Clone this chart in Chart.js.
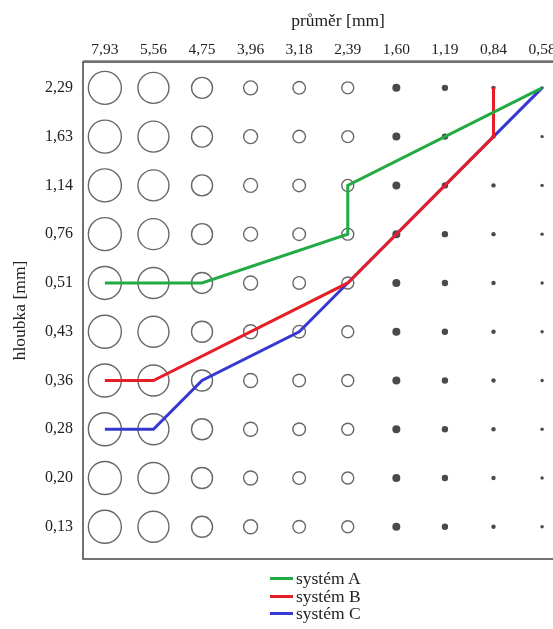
<!DOCTYPE html>
<html>
<head>
<meta charset="utf-8">
<script src="https://cdn.jsdelivr.net/npm/chart.js@4"></script>
<style>
html, body { margin: 0; padding: 0; background: #fff; overflow: hidden; width: 553px; height: 629px; }
#wrap { position: relative; width: 611px; height: 629px; }
#legend { position: absolute; left: 270px; top: 570px; font-family: "Liberation Serif", serif; font-size: 17.5px; color: #222; line-height: 17.5px; }
.item { display: flex; align-items: center; white-space: nowrap; }
.swatch { width: 23px; height: 3px; margin-right: 3px; }
</style>
</head>
<body>
<div id="wrap">
  <canvas id="chart" width="611" height="629"></canvas>
  <div id="legend"></div>
</div>
<script>
const xLabels = ['7,93', '5,56', '4,75', '3,96', '3,18', '2,39', '1,60', '1,19', '0,84', '0,58'];
const yLabels = ['2,29', '1,63', '1,14', '0,76', '0,51', '0,43', '0,36', '0,28', '0,20', '0,13'];

// [průměr, hloubka] per vertex
const systemA = [['7,93', '0,51'], ['4,75', '0,51'], ['2,39', '0,76'], ['2,39', '1,14'], ['0,58', '2,29']];
const systemB = [['7,93', '0,36'], ['5,56', '0,36'], ['2,39', '0,51'], ['0,84', '1,63'], ['0,84', '2,29']];
const systemC = [['7,93', '0,28'], ['5,56', '0,28'], ['4,75', '0,36'], ['3,18', '0,43'], ['2,39', '0,51'], ['0,58', '2,29']];

const seriesNames = ['systém A', 'systém B', 'systém C'];
const seriesColors = ['rgb(34, 170, 68)', 'rgb(230, 30, 40)', 'rgb(55, 55, 210)'];

// marker size per column, the small ones are drawn filled
const ringRadius = [16.5, 15.5, 10.5, 7, 6.3, 6, 4, 3.2, 2.2, 1.7];
const filledFrom = 6;

var font = { family: '"Liberation Serif", serif', size: 15.5 };
var yFont = { family: '"Liberation Serif", serif', size: 16 };
var titleFont = { family: '"Liberation Serif", serif', size: 17.5 };
var textColor = '#222';

function toPoints(list) {
    return list.map(p => ({ x: xLabels.indexOf(p[0]), y: yLabels.indexOf(p[1]) }));
}

const gridPoints = [];
yLabels.forEach((yl, j) => {
    xLabels.forEach((xl, i) => {
        gridPoints.push({ x: i, y: j });
    });
});

const lineSets = [systemA, systemB, systemC].map((s, i) => ({
    label: seriesNames[i],
    data: toPoints(s),
    showLine: true,
    borderColor: seriesColors[i],
    backgroundColor: seriesColors[i],
    borderWidth: 3,
    pointRadius: 0,
}));

const framePlugin = {
    id: 'frame',
    beforeDatasetsDraw(chart) {
        const a = chart.chartArea;
        const ctx = chart.ctx;
        ctx.save();
        ctx.strokeStyle = '#444';
        ctx.lineWidth = 1.5;
        ctx.strokeRect(a.left, a.top, a.right - a.left, a.bottom - a.top);
        ctx.strokeStyle = '#999';
        ctx.lineWidth = 1;
        ctx.beginPath();
        ctx.moveTo(a.left, a.top - 1.5);
        ctx.lineTo(a.right, a.top - 1.5);
        ctx.stroke();
        ctx.restore();
    }
};

new Chart(document.getElementById('chart'), {
    type: 'scatter',
    data: {
        datasets: lineSets.concat([{
            label: 'grid',
            data: gridPoints,
            pointRadius: ctx => ringRadius[ctx.raw.x],
            pointBackgroundColor: ctx => ctx.raw.x >= filledFrom ? '#4a4a4a' : 'rgba(0,0,0,0)',
            pointBorderColor: ctx => ctx.raw.x >= filledFrom ? '#4a4a4a' : '#686868',
            pointBorderWidth: ctx => ctx.raw.x >= filledFrom ? 0 : 1.4,
        }])
    },
    options: {
        responsive: false,
        animation: false,
        events: [],
        layout: { padding: { left: 0, top: 0, right: 0, bottom: 70 } },
        plugins: {
            legend: { display: false },
            tooltip: { enabled: false },
        },
        scales: {
            x: {
                type: 'linear',
                position: 'top',
                min: -0.45,
                max: 10.05,
                afterBuildTicks: s => { s.ticks = xLabels.map((l, i) => ({ value: i })); },
                afterFit: s => { s.height = 62; },
                grid: { display: false, drawTicks: false },
                border: { display: false },
                ticks: {
                    callback: v => xLabels[Math.round(v)],
                    font: font,
                    color: textColor,
                    padding: 3,
                    maxRotation: 0,
                    autoSkip: false,
                },
                title: { display: true, text: 'průměr [mm]', font: titleFont, color: textColor, padding: { top: 11, bottom: 0 } },
            },
            y: {
                type: 'linear',
                reverse: true,
                min: -0.53,
                max: 9.66,
                afterBuildTicks: s => { s.ticks = yLabels.map((l, i) => ({ value: i })); },
                afterFit: s => { s.width = 83; },
                grid: { display: false, drawTicks: false },
                border: { display: false },
                ticks: {
                    callback: v => yLabels[Math.round(v)],
                    font: yFont,
                    color: textColor,
                    padding: 10,
                    autoSkip: false,
                },
                title: { display: true, text: 'hloubka [mm]', font: titleFont, color: textColor, padding: { top: 10, bottom: 0 } },
            },
        },
    },
    plugins: [framePlugin]
});

// legend stacked under the plot
var legendHtml = '';
seriesNames.forEach((name, i) => {
    legendHtml += '<div class="item"><span class="swatch" style="background:' + seriesColors[i] + '"></span>' + name + '</div>';
});
document.getElementById('legend').innerHTML = legendHtml;
</script>
</body>
</html>
